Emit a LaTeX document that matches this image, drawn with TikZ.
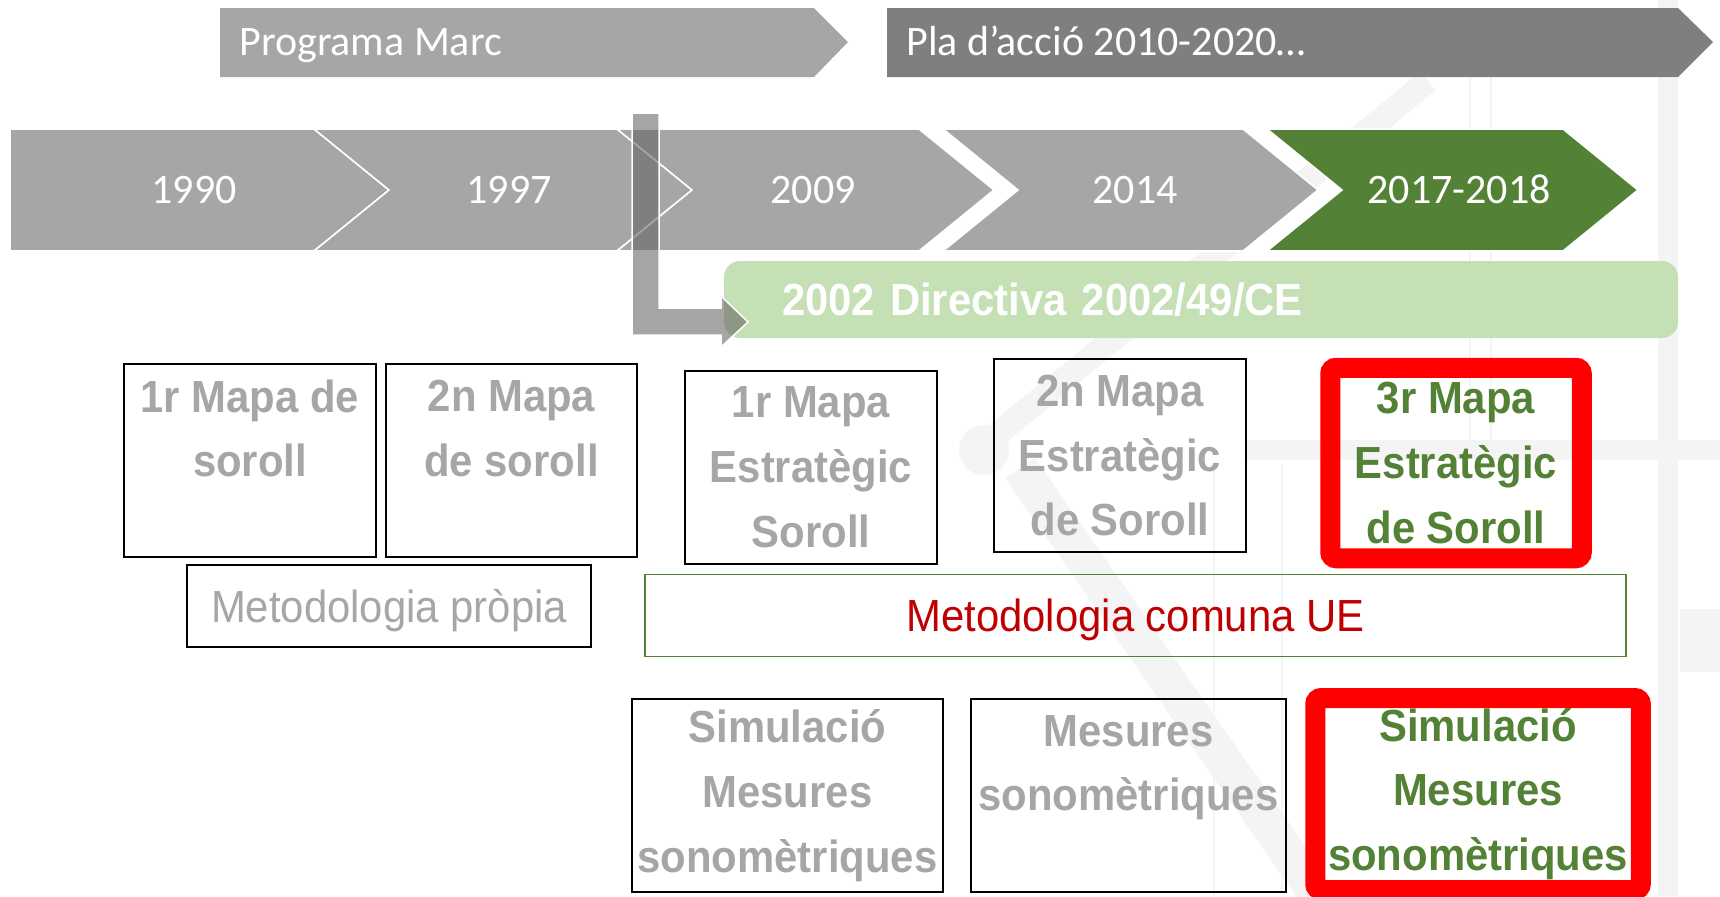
\documentclass[tikz,border=0pt]{standalone}
\usepackage{fontspec}
\setmainfont{Liberation Sans}
\newfontfamily\calibrifont{Carlito}
\newfontfamily\narrowfont{Liberation Sans}[FakeStretch=0.93]
\usepackage{xcolor}
\usetikzlibrary{positioning}

\definecolor{lgray}{HTML}{A6A6A6}
\definecolor{dgray}{HTML}{7F7F7F}
\definecolor{mgreen}{HTML}{538135}
\definecolor{lgreen}{HTML}{C5E0B4}
\definecolor{dred}{HTML}{C00000}
\definecolor{wmark}{HTML}{F4F4F4}
\definecolor{lbar}{HTML}{626262}

\begin{document}
\begin{tikzpicture}[
    x=0.5pt, y=-0.5pt,
    yearlabel/.style={font=\calibrifont\fontsize{21}{21}\selectfont, text=white, inner sep=0pt, text height=13.3pt, text depth=0pt},
    chev/.style={draw=white, line width=0.8pt},
    mapbox/.style={draw=black, line width=1pt, inner sep=0pt, align=center, minimum height=96.5pt,
        font=\narrowfont\bfseries\fontsize{22.5}{32.4}\selectfont, text=lgray},
    redbox/.style={mapbox, draw=red, line width=10pt, rounded corners=3pt, text=mgreen},
    methbox/.style={draw=black, line width=1pt, inner sep=0pt, minimum height=41pt,
        font=\narrowfont\fontsize{22.5}{27}\selectfont, text=lgray, text height=16.1pt, text depth=0pt},
    dirbar/.style={fill=lgreen, rounded corners=8pt, minimum width=477pt, minimum height=38.5pt,
        text width=419pt, inner xsep=29pt, inner ysep=0pt, align=left, text=white,
        font=\narrowfont\bfseries\fontsize{22.5}{27}\selectfont, text height=16.1pt, text depth=0pt}
]
\useasboundingbox (0,0) rectangle (1720,896);
\clip (0,0) rectangle (1720,896);
\fill[white] (0,0) rectangle (1720,896);

% faint background watermark
\draw[wmark, line width=10pt] (1668,0) -- (1668,896);
\draw[wmark, line width=0.6pt] (1470,60) -- (1470,440) (1491,60) -- (1491,440);
\draw[wmark, line width=10pt] (1245,450) -- (1720,450);
\fill[wmark] (1680,609) rectangle (1720,672);
\draw[wmark, line width=12pt] (1428,81) -- (990,440);
\fill[wmark] (984,450) circle (25);
\draw[wmark, line width=18pt] (1020,468) -- (1318,896);
\draw[wmark, line width=0.6pt] (1214,463) -- (1214,896) (1282,463) -- (1282,896);

% framework arrows
\fill[lgray] (220,8) -- (814,8) -- (848,42) -- (814,77) -- (220,77) -- cycle;
\fill[dgray] (887,8) -- (1678,8) -- (1713,42) -- (1678,77) -- (887,77) -- cycle;
\node[yearlabel, anchor=west] (prog) at (239,42) {Programa Marc};
\node[yearlabel, anchor=west] (pla) at (906,42) {Pla d’acció 2010-2020…};

% timeline
\fill[lgray, chev] (10,129) -- (314,129) -- (389,190) -- (314,251) -- (10,251) -- cycle;
\foreach \xl/\xr/\col in {314/617/lgray, 617/919/lgray, 943/1243/lgray, 1267/1563/mgreen}
    \fill[\col, chev] (\xl,129) -- (\xr,129) -- (\xr+75,190) -- (\xr,251) -- (\xl,251) -- (\xl+75,190) -- cycle;
\foreach \x/\yr [count=\i] in {194/1990, 509/1997, 813/2009, 1135/2014, 1459/2017-2018}
    \node[yearlabel] (yr\i) at (\x,190) {\yr};

\node[dirbar] (dir) at (1201,299.5) {2002 Directiva 2002/49/CE};

% bent arrow
\fill[lbar, fill opacity=0.57, draw=white, line width=0.75pt]
    (632,113) -- (659,113) -- (659,308) -- (721,308) -- (721,296) -- (748,322)
    -- (721,347) -- (721,335) -- (632,335) -- cycle;

% maps
\node[mapbox, minimum width=126pt] (map1) at (250,460.5) {1r Mapa de\\soroll\\\mbox{}};
\node[mapbox, minimum width=125.5pt, right=4pt of map1] (map2) {2n Mapa\\de soroll\\\mbox{}};
\node[mapbox, minimum width=126pt] (map3) at (811,467.5) {1r Mapa\\Estratègic\\Soroll};
\node[mapbox, minimum width=126pt] (map4) at (1120,455.5) {2n Mapa\\Estratègic\\de Soroll};
\node[redbox, minimum width=125.75pt, minimum height=95.25pt] (map5) at (1456,463) {3r Mapa\\Estratègic\\de Soroll};

\node[methbox, minimum width=201.75pt] (metp) at (389,606) {Metodologia pròpia};
\node[methbox, draw=mgreen, line width=0.75pt, minimum width=490.5pt, text=dred] (metc) at (1135.5,615.5) {Metodologia comuna UE};

\node[mapbox, minimum width=155.5pt] (sim1) at (787.5,795.5) {Simulació\\Mesures\\sonomètriques};
\node[mapbox, minimum width=157.5pt] (mes1) at (1128.5,795.5) {Mesures\\sonomètriques\\\mbox{}};
\node[redbox, minimum width=162.75pt, minimum height=96pt] (sim2) at (1478,794) {Simulació\\Mesures\\sonomètriques};

\end{tikzpicture}
\end{document}
